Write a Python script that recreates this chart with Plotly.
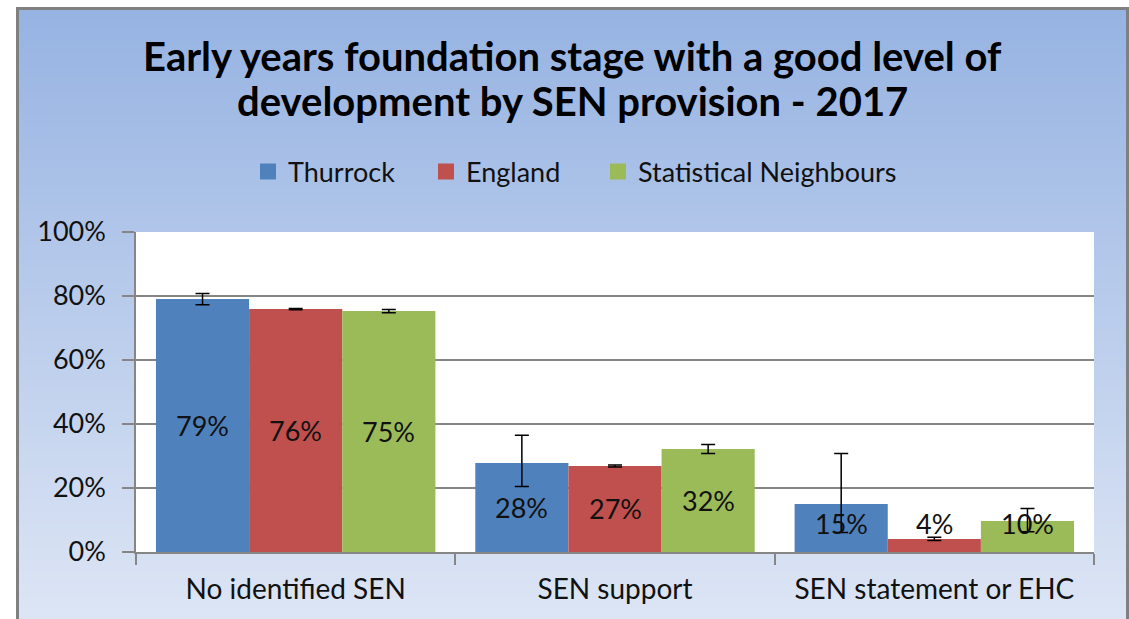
import plotly.graph_objects as go

# ---- data ----
categories = ["No identified SEN", "SEN support", "SEN statement or EHC"]
series_names = ["Thurrock", "England", "Statistical Neighbours"]
thurrock = [79.1, 27.8, 15.0]
england = [75.9, 26.9, 4.1]
stat_neigh = [75.3, 32.2, 9.7]
thurrock_err_plus = [1.7, 8.7, 15.8]
thurrock_err_minus = [1.8, 7.3, 8.9]
england_err_plus = [0.2, 0.3, 0.5]
england_err_minus = [0.2, 0.3, 0.5]
stat_err_plus = [0.5, 1.4, 3.9]
stat_err_minus = [0.5, 1.4, 3.4]
y_ticks = [0, 20, 40, 60, 80, 100]
y_tick_labels = ["0%", "20%", "40%", "60%", "80%", "100%"]
title_lines = ["Early years foundation stage with a good level of",
               "development by SEN provision - 2017"]

colors = ["#4F81BD", "#C0504D", "#9BBB59"]
values = [thurrock, england, stat_neigh]
err_plus = [thurrock_err_plus, england_err_plus, stat_err_plus]
err_minus = [thurrock_err_minus, england_err_minus, stat_err_minus]

W, H = 1129, 619
PL, PR, PT, PB = 136, 1094, 232, 552   # plot-area edges in page pixels
FONT = "Lato"


def pxx(p):
    """page pixel x -> paper coordinate"""
    return (p - PL) / (PR - PL)


def pxy(p):
    """page pixel y -> paper coordinate"""
    return (PB - p) / (PB - PT)


legend_ids = ["legend", "legend2", "legend3"]
legend_left_px = [248, 426, 598]

fig = go.Figure()
for name, vals, col, ep, em, lid in zip(series_names, values, colors,
                                        err_plus, err_minus, legend_ids):
    fig.add_trace(go.Bar(
        x=categories, y=vals, name=name,
        marker=dict(color=col, line=dict(width=0)),
        showlegend=False,
        error_y=dict(type="data", array=ep, arrayminus=em, symmetric=False,
                     color="black", thickness=1.5, width=7),
    ))
    # legend entry with a square swatch
    fig.add_trace(go.Scatter(
        x=[None], y=[None], mode="markers", name=name, legend=lid,
        marker=dict(symbol="square", size=16, color=col),
    ))

# data labels (centred in each bar, kept above a minimum height)
group_w = (PR - PL) / len(categories) * (1 - 0.125)
bar_px = group_w / len(series_names)
MIN_LABEL_Y = 9.0
annotations = []
for k, vals in enumerate(values):
    for cat, v in zip(categories, vals):
        annotations.append(dict(
            x=cat, y=max(v / 2, MIN_LABEL_Y), xref="x", yref="y",
            text=f"{round(v)}%", showarrow=False,
            xshift=(k - 1) * bar_px,
            font=dict(family=FONT, size=27, color="#111111"),
        ))

# title, two lines
for line, ypx in zip(title_lines, [56, 101]):
    annotations.append(dict(
        x=pxx(572), y=pxy(ypx), xref="paper", yref="paper",
        text=f"<b>{line}</b>", showarrow=False, xanchor="center", yanchor="middle",
        font=dict(family=FONT, size=40, color="black"),
    ))

# background vertical gradient built from thin strips
shapes = []
top_c = (150, 179, 226)
bot_c = (222, 230, 245)
y0, y1 = 9, 625
step = 3
y = y0
while y < y1:
    t = (y - y0) / (y1 - y0)
    c = tuple(round(a + (b - a) * t) for a, b in zip(top_c, bot_c))
    shapes.append(dict(type="rect", xref="paper", yref="paper",
                       x0=pxx(18), x1=pxx(1130), y0=pxy(y), y1=pxy(y + step + 0.5),
                       fillcolor=f"rgb{c}", line=dict(width=0), layer="below"))
    y += step
# white plot area
shapes.append(dict(type="rect", xref="paper", yref="paper", x0=0, x1=1, y0=0, y1=1,
                   fillcolor="white", line=dict(width=0), layer="below"))
# outer chart border
shapes.append(dict(type="rect", xref="paper", yref="paper",
                   x0=pxx(17.5), x1=pxx(1127.5), y0=pxy(8.5), y1=pxy(640),
                   fillcolor="rgba(0,0,0,0)", line=dict(color="#808080", width=3),
                   layer="above"))

legend_style = dict(orientation="h", xanchor="left", y=pxy(172), yanchor="middle",
                    font=dict(family=FONT, size=27, color="#111111"),
                    bgcolor="rgba(0,0,0,0)", itemwidth=30)

fig.update_layout(
    width=W, height=H,
    margin=dict(l=PL, r=W - PR, t=PT, b=H - PB, pad=0),
    paper_bgcolor="white", plot_bgcolor="white",
    barmode="group", bargap=0.125, bargroupgap=0,
    legend=dict(x=pxx(legend_left_px[0]), **legend_style),
    legend2=dict(x=pxx(legend_left_px[1]), **legend_style),
    legend3=dict(x=pxx(legend_left_px[2]), **legend_style),
    shapes=shapes,
    annotations=annotations,
    font=dict(family=FONT, color="black"),
)
fig.update_xaxes(
    type="category", tickson="boundaries", ticks="outside", ticklen=11, tickwidth=1.5,
    tickcolor="#868686", showline=True, linecolor="#868686", linewidth=1.5,
    showgrid=False, tickfont=dict(family=FONT, size=28, color="#111111"),
    ticklabelstandoff=12,
)
fig.update_yaxes(
    range=[0, 100], tickmode="array", tickvals=y_ticks, ticktext=y_tick_labels,
    ticks="outside", ticklen=12,
    tickwidth=1.5, tickcolor="#868686", showline=True, linecolor="#868686", linewidth=1.5,
    showgrid=True, gridcolor="#868686", gridwidth=1.5, zeroline=False,
    tickfont=dict(family=FONT, size=27, color="#111111"), ticklabelstandoff=11,
)

fig.write_html("out.html", config={"displayModeBar": False},
               post_script="document.body.style.margin='0';")
